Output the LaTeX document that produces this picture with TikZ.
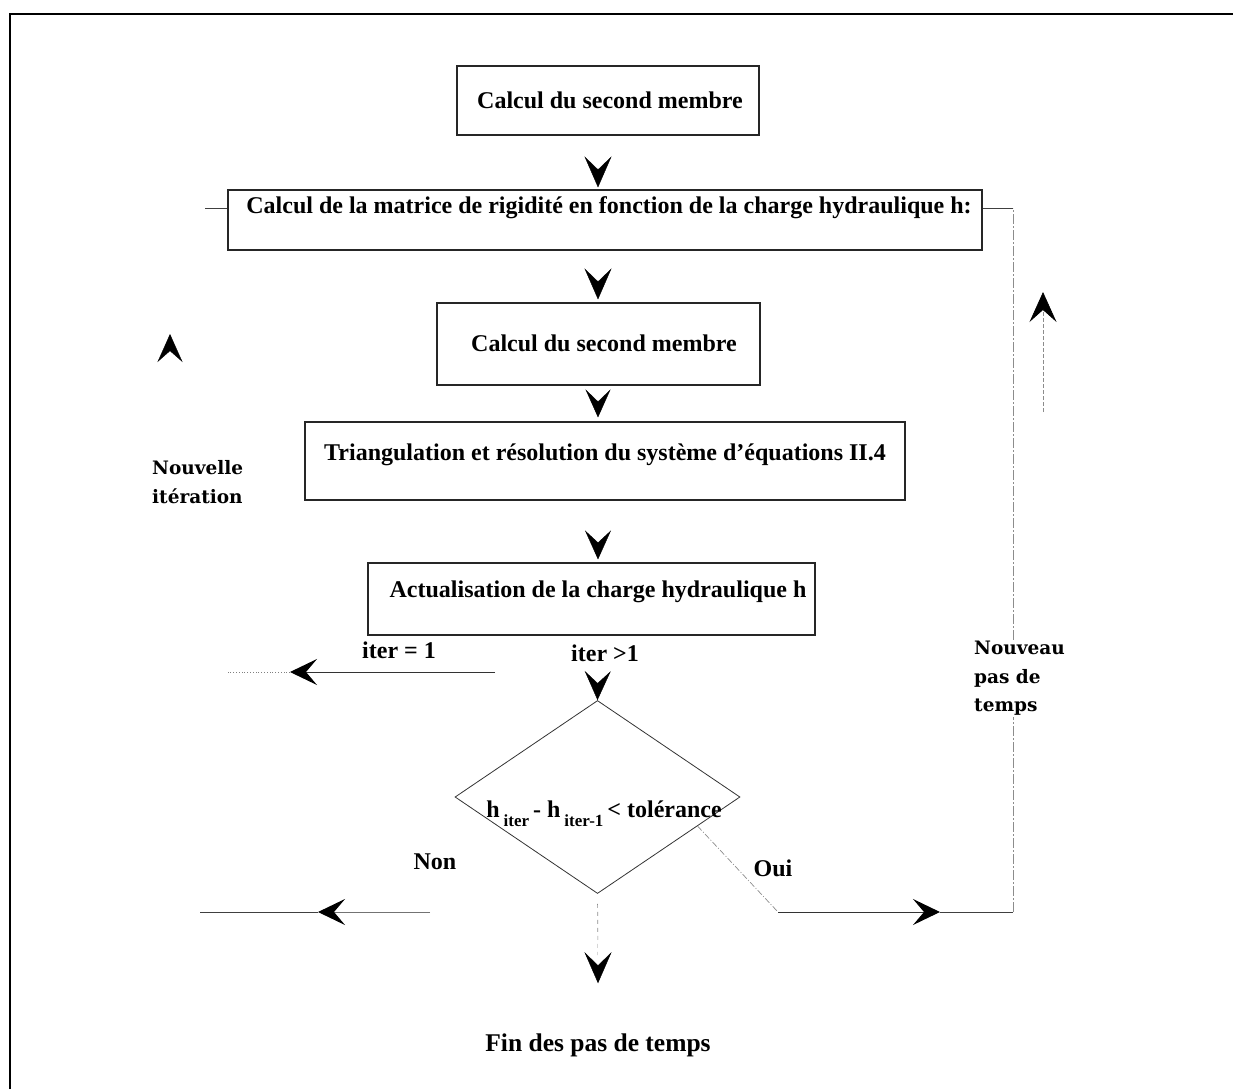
\documentclass[tikz,border=0pt]{standalone}
\usepackage{fontspec}
\setmainfont{Liberation Serif}
\newfontfamily\wideserif{DejaVu Serif}
\usetikzlibrary{arrows.meta,shapes.geometric,calc}
\begin{document}
\begin{tikzpicture}[x=1pt,y=-1pt,
  boxst/.style={draw=black!85, line width=1.1pt, inner sep=0pt},
  btext/.style={font=\fontsize{24}{28}\selectfont\bfseries, inner sep=0pt},
  ltext/.style={font=\wideserif\fontsize{18.5}{28.5}\selectfont\bfseries, inner sep=1pt, align=left},
  stext/.style={font=\fontsize{24}{28}\selectfont\bfseries, inner sep=0pt},
  vhead/.style={draw=white, line width=0.4pt, shorten <=3pt,
     -{Stealth[length=31pt,width=27pt,inset=13pt,color=black]}},
  hhead/.style={line width=1pt, draw=black!80,
     -{Stealth[length=27pt,width=26pt,inset=11pt,color=black]}},
  thinln/.style={line width=0.8pt, draw=black!75},
  faint/.style={line width=0.7pt, draw=black!45, dash pattern=on 6pt off 2pt on 1pt off 2pt},
]
\useasboundingbox (0,0) rectangle (1233,1089);
% frame
\draw[line width=1.3pt] (10,1089) -- (10,14) -- (1233,14);

% boxes
\node[boxst, minimum width=302pt, minimum height=69pt] (b1) at (608,100.5) {};
\node[boxst, minimum width=754pt, minimum height=60pt] (b2) at (605,220) {};
\node[boxst, minimum width=323pt, minimum height=82pt] (b3) at (598.5,344) {};
\node[boxst, minimum width=600pt, minimum height=78pt] (b4) at (605,461) {};
\node[boxst, minimum width=447pt, minimum height=72pt] (b5) at (591.5,599) {};
\node[draw=black!80, line width=0.8pt, diamond, minimum width=285pt, minimum height=193pt, inner sep=0pt] (dia) at (597.5,797) {};

% box texts
\node[btext] (t1) at (610,100) {Calcul du second membre};
\node[btext] (t2) at (609,208) {Calcul de la matrice de rigidité en fonction de la charge hydraulique h:};
\node[btext] (t3) at (604,343) {Calcul du second membre};
\node[btext] (t4) at (605,455) {Triangulation et résolution du système d'équations II.4};
\node[btext] (t5) at (598,592) {Actualisation de la charge hydraulique h};
\node[btext] (td) at (604,814) {h\,\raisebox{-9pt}{\fontsize{17}{17}\selectfont iter}\,- h\,\raisebox{-9pt}{\fontsize{17}{17}\selectfont iter-1}\,< tolérance};

% labels
\node[ltext, anchor=west] (nit) at (151,482) {Nouvelle\\itération};
\node[stext] (it1) at (399,650) {iter = 1};
\node[stext] (itg) at (605,653) {iter >1};
\node[stext] (non) at (435,862) {Non};
\node[stext] (oui) at (773,868) {Oui};
\node[stext, font=\fontsize{25.5}{30}\selectfont\bfseries] (fin) at (598,1045) {Fin des pas de temps};

% axis coordinates
\coordinate (ax) at (598,0);

% main vertical arrows
\draw[vhead] (b1.south -| ax) -- ([yshift=2pt]b2.north -| ax);
\draw[vhead] (b2.south -| ax) -- ([yshift=3pt]b3.north -| ax);
\draw[vhead, -{Stealth[length=28pt,width=25pt,inset=12pt,color=black]}] (b3.south -| ax) -- ([yshift=4pt]b4.north -| ax);
\draw[vhead, -{Stealth[length=29pt,width=26pt,inset=12pt,color=black]}] (b4.south -| ax) -- ([yshift=3pt]b5.north -| ax);
\draw[vhead, -{Stealth[length=29pt,width=26pt,inset=12pt,color=black]}] (b5.south -| ax) -- (dia.north);
\draw[faint, dash pattern=on 4pt off 4pt, shorten <=10pt] (dia.south) -- (598,955);
\draw[vhead, -{Stealth[length=31pt,width=27pt,inset=13pt,color=black]}] (598,940) -- ([yshift=50pt]fin.north);

% iter = 1 branch
\coordinate (i1s) at (495,672);
\coordinate (i1h) at (290,672);
\coordinate (i1e) at (228,672);
\draw[hhead] (i1s) -- (i1h);
\draw[thinln, dotted, draw=black!50] (i1h) -- (i1e);

% Non branch
\coordinate (ns) at (430,912);
\coordinate (nh) at (318,912);
\coordinate (ne) at (200,912);
\draw[hhead, draw=black!55] (ns) -- (nh);
\draw[thinln] (nh) -- (ne);

% Oui branch back to b2
\coordinate (oA) at ($(dia.east)!0.3!(dia.south)$);
\coordinate (oB) at (778,912);
\coordinate (oH) at (940,912);
\coordinate (oC) at (1013,912);
\coordinate (oT) at (1013,208);
\draw[faint] (oA) -- (oB);
\draw[hhead] (oB) -- (oH);
\draw[thinln] (oH) -- (oC);
\draw[faint, dash pattern=on 10pt off 2pt on 2pt off 2pt] (oC) -- (oT);
\draw[thinln] (oT) -- (b2.east |- oT);

% left stub of b2
\coordinate (ls) at (205,208);
\draw[thinln] (ls) -- (b2.west |- ls);

% detached up arrows
\coordinate (ua1) at (1043,412);
\coordinate (ua2) at (1043,292);
\draw[faint, dash pattern=on 4pt off 2pt,
  -{Stealth[length=30pt,width=27pt,inset=12pt,color=black]}] (ua1) -- (ua2);
\coordinate (la1) at (170,366);
\coordinate (la2) at (170,334);
\draw[vhead, -{Stealth[length=28pt,width=25pt,inset=11pt,color=black]}] (la1) -- (la2);

% label on right line (masks line)
\node[ltext, anchor=north west, fill=white] (npt) at (973,640) {Nouveau\\pas de\\temps};
\end{tikzpicture}
\end{document}
